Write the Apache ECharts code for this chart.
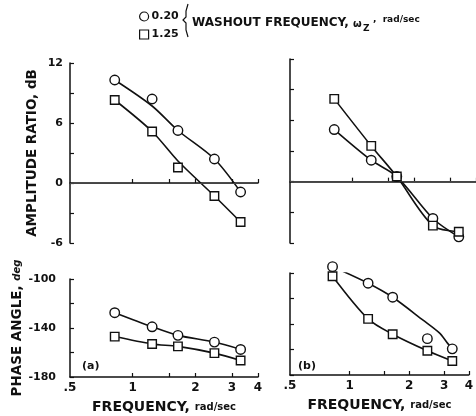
<!DOCTYPE html>
<html>
<head>
<meta charset="utf-8">
<script src="https://cdn.jsdelivr.net/npm/echarts@6/dist/echarts.min.js"></script>
<style>
  html, body { margin: 0; background: #fff; }
  #chart { width: 476px; height: 416px; }
</style>
</head>
<body>
<div id="chart"></div>
<script>
// washout frequency test points, rad/sec
const freq = [0.82, 1.24, 1.65, 2.47, 3.3];

// amplitude ratio, dB  (a)
const ampA020 = [10.3, 8.4, 5.25, 2.4, -0.9];
const ampA125 = [8.3, 5.15, 1.55, -1.3, -3.9];
// faired curves of (a) don't go through every point
const ampA020Fair = [10.3, 7.7, 5.25, 2.4, -0.9];
const ampA125Fair = [8.3, 5.15, 2.2, -1.3, -3.9];
// amplitude ratio, dB  (b)
const ampB020 = [5.1, 2.1, 0.5, -3.6, -5.4];
const ampB125 = [8.1, 3.5, 0.5, -4.3, -4.9];

// phase angle, deg
const phA020 = [-127.5, -139, -146, -151.5, -157.5];
const phA125 = [-147, -153, -155, -160.5, -166.5];
const phB020 = [-95, -108, -119, -151.5, -159.5];
const phB125 = [-102.5, -136, -148, -161, -169];
const phB020FairFreq = [0.82, 1.24, 1.65, 2.35, 2.84, 3.12, 3.3];
const phB020Fair = [-95, -108, -119, -137, -147, -155, -159.5];

const xTickVals = [1, 1.5, 2, 3, 4];
const xLabelVals = [0.5, 1, 2, 3, 4];
const xLabels = ['.5', '1', '2', '3', '4'];
const ampLabels = [12, 6, 0, -6];
const phLabels = [-100, -140, -180];

const INK = '#111';
const FONT = 'DejaVu Sans';

const pairs = (xs, ys) => xs.map((x, i) => [x, ys[i]]);

function xAxis(gi, withLabels) {
  return {
    type: 'log', logBase: 2, min: 0.5, max: 4, gridIndex: gi,
    axisLine: { lineStyle: { color: INK, width: 1.5 } },
    axisTick: { inside: true, length: 4, customValues: xTickVals, lineStyle: { color: INK, width: 1.2 } },
    axisLabel: {
      show: withLabels, customValues: xLabelVals, margin: 5,
      color: INK, fontFamily: FONT, fontWeight: 'bold', fontSize: 12,
      formatter: v => {
        const i = xLabelVals.findIndex(t => Math.abs(t - v) < 1e-6);
        return i >= 0 ? xLabels[i] : '';
      }
    },
    splitLine: { show: false },
    name: withLabels ? '{a|FREQUENCY, }{b|rad/sec}' : '',
    nameLocation: 'middle', nameGap: 23,
    nameTextStyle: {
      rich: {
        a: { fontFamily: FONT, fontWeight: 'bold', fontSize: 14, color: INK },
        b: { fontFamily: FONT, fontWeight: 'bold', fontSize: 10, color: INK }
      }
    }
  };
}

function yAxis(gi, min, max, interval, labels, withLabels, margin) {
  return {
    type: 'value', gridIndex: gi, min, max, interval,
    axisLine: { show: true, lineStyle: { color: INK, width: 1.5 } },
    axisTick: { show: true, inside: true, length: 4, lineStyle: { color: INK, width: 1.2 } },
    axisLabel: {
      show: withLabels, margin,
      color: INK, fontFamily: FONT, fontWeight: 'bold', fontSize: 11,
      formatter: v => labels.includes(v) ? String(v) : ''
    },
    splitLine: { show: false }
  };
}

function fair(name, gi, data, withZero) {
  const s = {
    name, type: 'line', xAxisIndex: gi, yAxisIndex: gi, data,
    showSymbol: false, smooth: 0.3,
    lineStyle: { color: INK, width: 1.6 }, z: 2, silent: true
  };
  if (withZero) {
    s.markLine = {
      silent: true, symbol: 'none', label: { show: false },
      lineStyle: { color: '#444', width: 1, type: 'solid' },
      data: [{ yAxis: 0 }]
    };
  }
  return s;
}

function points(name, gi, data, symbol) {
  return {
    name, type: 'scatter', xAxisIndex: gi, yAxisIndex: gi, data,
    symbol, symbolSize: symbol === 'circle' ? 9.5 : 8.5, clip: false,
    itemStyle: { color: '#fff', borderColor: INK, borderWidth: 1.4, opacity: 1 }, z: 5
  };
}

const chart = echarts.init(document.getElementById('chart'));

chart.setOption({
  backgroundColor: '#fff',
  animation: false,
  legend: {
    orient: 'vertical', left: 134, top: 6, itemWidth: 9, itemHeight: 9, itemGap: 7,
    selectedMode: false,
    data: [{ name: '0.20', icon: 'circle' }, { name: '1.25', icon: 'rect' }],
    itemStyle: { color: '#fff', borderColor: INK, borderWidth: 1.2, opacity: 1 },
    textStyle: { color: INK, fontFamily: FONT, fontWeight: 'bold', fontSize: 11, padding: [0, 0, 0, -2] }
  },
  grid: [
    { left: 70, top: 63, width: 188, height: 180 },
    { left: 290, top: 59, width: 188, height: 184 },
    { left: 70, top: 279, width: 188, height: 98 },
    { left: 290, top: 273, width: 188, height: 102 }
  ],
  xAxis: [xAxis(0, false), xAxis(1, false), xAxis(2, true), xAxis(3, true)],
  yAxis: [
    Object.assign(yAxis(0, -6, 12, 3, ampLabels, true, 7), {
      name: 'AMPLITUDE RATIO, dB', nameLocation: 'middle', nameGap: 31,
      nameTextStyle: { fontFamily: FONT, fontWeight: 'bold', fontSize: 13.5, color: INK }
    }),
    yAxis(1, -6, 12, 3, ampLabels, false, 7),
    Object.assign(yAxis(2, -180, -100, 20, phLabels, true, 14), {
      name: '{a|PHASE ANGLE, }{b|deg}', nameLocation: 'middle', nameGap: 45,
      nameTextStyle: {
        rich: {
          a: { fontFamily: FONT, fontWeight: 'bold', fontSize: 13.5, color: INK },
          b: { fontFamily: FONT, fontWeight: 'bold', fontStyle: 'italic', fontSize: 10, color: INK }
        }
      }
    }),
    yAxis(3, -180, -100, 20, phLabels, false, 14)
  ],
  series: [
    fair('a020', 0, pairs(freq, ampA020Fair), true),
    fair('a125', 0, pairs(freq, ampA125Fair), false),
    points('0.20', 0, pairs(freq, ampA020), 'circle'),
    points('1.25', 0, pairs(freq, ampA125), 'rect'),

    fair('b020', 1, pairs(freq, ampB020), true),
    fair('b125', 1, pairs(freq, ampB125), false),
    points('0.20', 1, pairs(freq, ampB020), 'circle'),
    points('1.25', 1, pairs(freq, ampB125), 'rect'),

    fair('pa020', 2, pairs(freq, phA020), false),
    fair('pa125', 2, pairs(freq, phA125), false),
    points('0.20', 2, pairs(freq, phA020), 'circle'),
    points('1.25', 2, pairs(freq, phA125), 'rect'),

    fair('pb020', 3, pairs(phB020FairFreq, phB020Fair), false),
    fair('pb125', 3, pairs(freq, phB125), false),
    points('0.20', 3, pairs(freq, phB020), 'circle'),
    points('1.25', 3, pairs(freq, phB125), 'rect')
  ],
  graphic: [
    // brace joining the two legend entries
    {
      type: 'polyline', silent: true,
      shape: { points: [[188, 4], [186, 11], [186, 17], [183, 20], [186, 23], [186, 30], [188, 37]] },
      style: { stroke: INK, lineWidth: 1.2, fill: null }
    },
    { type: 'text', left: 192, top: 17, silent: true,
      style: { text: 'WASHOUT FREQUENCY,', fill: INK, font: `bold 12px "${FONT}"` } },
    { type: 'text', left: 353, top: 19, silent: true,
      style: { text: 'ω', fill: INK, font: `bold 10px "${FONT}"` } },
    { type: 'text', left: 363, top: 24, silent: true,
      style: { text: 'Z', fill: INK, font: `bold 9px "${FONT}"` } },
    { type: 'text', left: 373, top: 15, silent: true,
      style: { text: ',  rad/sec', fill: INK, font: `bold 9px "${FONT}"` } },
    { type: 'text', left: 82, top: 361, silent: true,
      style: { text: '(a)', fill: INK, font: `bold 11px "${FONT}"` } },
    { type: 'text', left: 298, top: 361, silent: true,
      style: { text: '(b)', fill: INK, font: `bold 11px "${FONT}"` } }
  ]
});
</script>
</body>
</html>
